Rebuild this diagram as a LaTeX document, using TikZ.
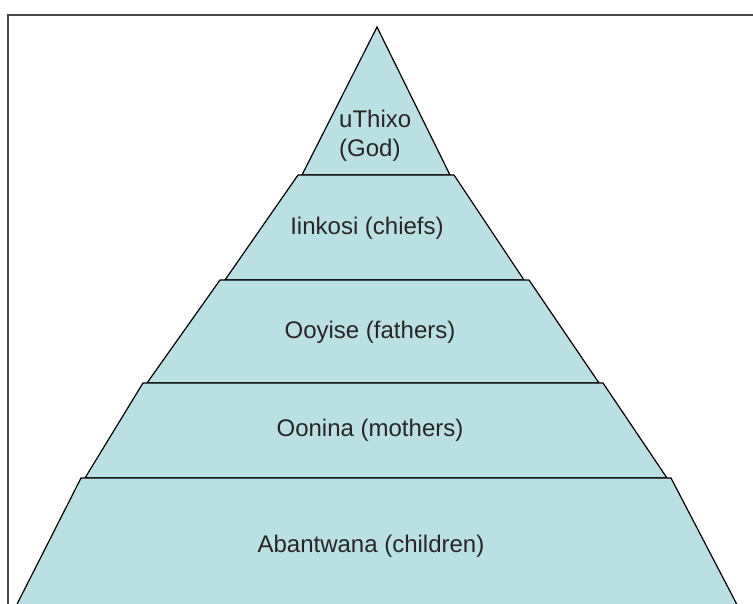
\documentclass[tikz,border=0pt]{standalone}
\usepackage{fontspec}
\setmainfont{Liberation Sans}
\usetikzlibrary{positioning}

\definecolor{layerfill}{RGB}{187,224,227}
\definecolor{framegray}{RGB}{70,70,70}

\tikzset{
	layer/.style={draw=black,line width=1.2pt,fill=layerfill,line join=miter},
	layertext/.style={font=\fontsize{24}{29}\selectfont,inner sep=0pt,text=black!85},
	frame/.style={draw=framegray,line width=2pt}
}

\begin{document}
\begin{tikzpicture}[x=1pt,y=-1pt]
				    \useasboundingbox (0,0) rectangle (753,603);
				    % Frame
				    \draw[frame] (8,620) -- (8,15) -- (770,15);
				    % Layers
				    \draw[layer] (377,27) -- (450,175) -- (302,175) -- cycle;
				    \draw[layer] (298,175) -- (454,175) -- (524,280) -- (225,280) -- cycle;
				    \draw[layer] (220,280) -- (529,280) -- (599,383) -- (147,383) -- cycle;
				    \draw[layer] (143,383) -- (603,383) -- (667,478) -- (85,478) -- cycle;
				    \draw[layer] (81,478) -- (671,478) -- (745,620) -- (9,620) -- cycle;
				    % Place nodes
				    \node[layertext,align=left,anchor=west] (god) at (339,136) {uThixo\\(God)};
				    \node[layertext] (chiefs) at (367,228) {Iinkosi (chiefs)};
				    \node[layertext] (fathers) at (370,332) {Ooyise (fathers)};
				    \node[layertext] (mothers) at (370,430) {Oonina (mothers)};
				    \node[layertext] (children) at (371,546) {Abantwana (children)};
				
				\end{tikzpicture}
\end{document}
